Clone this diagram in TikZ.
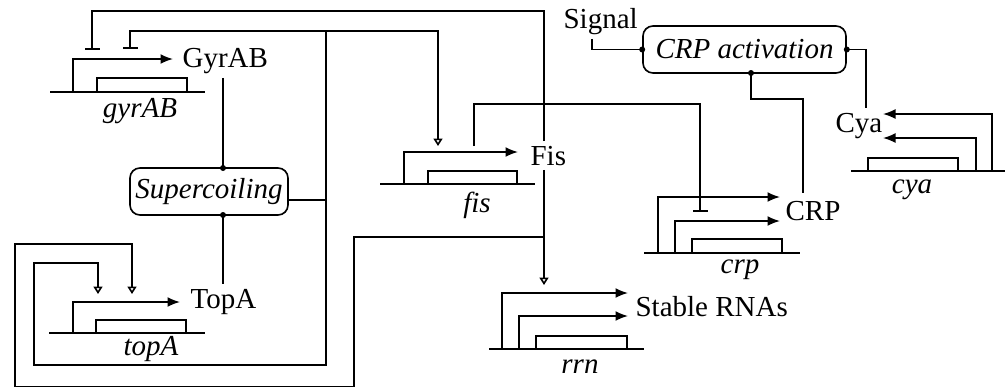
\documentclass[tikz,border=0pt]{standalone}
\usepackage{fontspec}
\setmainfont{Liberation Serif}
\usetikzlibrary{arrows.meta}

\tikzset{
  lbl/.style={inner sep=1.5pt, anchor=base west},
  gname/.style={inner sep=0pt, anchor=base, font=\fontsize{11.6}{14}\selectfont\itshape},
  procbox/.style={draw, rounded corners=4pt, font=\fontsize{11.6}{14}\selectfont\itshape, minimum height=18.8pt, inner sep=0pt},
  prom/.style={-{Latex[length=5pt,width=4pt]}},
  act/.style={-{Triangle[open,length=3pt,width=3.6pt]}},
  rep/.style={-{Bar[width=6pt]}},
}

\begin{document}
\begin{tikzpicture}[x=0.4pt, y=-0.4pt, line width=0.65pt, font=\fontsize{11.6}{14}\selectfont]
\useasboundingbox (0,0) rectangle (1008,388);

% Products and processes
\node[lbl] (GyrAB) at (178,67) {GyrAB};
\node[lbl] (TopA) at (186,308) {TopA};
\node[lbl] (Fis) at (526,165) {Fis};
\node[lbl] (RNAs) at (631,316) {Stable RNAs};
\node[lbl] (CRP) at (781,220) {CRP};
\node[lbl] (Cya) at (831,132) {Cya};
\node[lbl] (Signal) at (559,28) {Signal};
\node[procbox, minimum width=63.2pt] (Supercoiling) at (209,191.5) {Supercoiling};
\node[procbox, minimum width=81.2pt] (CRPact) at (744.5,49.5) {CRP activation};

% Gene names
\node[gname] (gyrAB) at (140,117) {gyrAB};
\node[gname] (topA) at (151,355) {topA};
\node[gname] (fis) at (477,212) {fis};
\node[gname] (rrn) at (580,373) {rrn};
\node[gname] (crp) at (740,273) {crp};
\node[gname] (cya) at (912,193) {cya};

% Genes and promoters
\draw (50,92) -- (205,92);
\draw (97,92) rectangle (187,78);
\draw[prom] (73,92) |- (173,59);

\draw (49,333) -- (205,333);
\draw (96,333) rectangle (186,320);
\draw[prom] (73,333) |- (180,302);

\draw (380,184) -- (535,184);
\draw (428,184) rectangle (517,171);
\draw[prom] (404,184) |- (518,152);

\draw (489,349) -- (644,349);
\draw (536,349) rectangle (627,336);
\draw[prom] (502,349) |- (628,293);
\draw[prom] (519,349) |- (628,316);

\draw (644,253) -- (800,253);
\draw (692,253) rectangle (782,239);
\draw[prom] (658,253) |- (780,197);
\draw[prom] (675,253) |- (780,221);

\draw (851,171) -- (1005,171);
\draw (868,171) rectangle (958,158);
\draw[prom] (992,171) |- (883,114);
\draw[prom] (976,171) |- (883,138);

% Ends of the regulation lines
\coordinate (gyr-rep1) at (92,50);
\coordinate (gyr-rep2) at (130,49);
\coordinate (top-act1) at (98,294);
\coordinate (top-act2) at (132,294);
\coordinate (fis-act) at (438,146);
\coordinate (fis-out) at (474,146);
\coordinate (rrn-act) at (544,285);
\coordinate (crp-rep) at (700,212);
\coordinate (crp-in) at (803,193);
\coordinate (cya-in) at (866,108);
\coordinate (sc-top) at (223,168);
\coordinate (sc-bot) at (223,215);
\coordinate (act-out) at (751,73);
\coordinate (hub) at (326,200);

% Supercoiling
\draw (sc-top |- GyrAB.south) -- (sc-top);
\draw (sc-bot) -- (sc-bot |- TopA.north);
\draw (Supercoiling.east |- hub) -- (hub);
\draw[rep] (hub) -- (hub |- 0,31) -| (gyr-rep2);
\draw[act] (hub |- 0,31) -| (fis-act);
\draw[act] (hub) |- (34,365) |- (top-act1 |- 0,263) -- (top-act1);

% Fis
\draw[rep] (Fis.north -| rrn-act) |- (gyr-rep1 |- 0,11) -- (gyr-rep1);
\draw[act] (Fis.south -| rrn-act) -- (rrn-act);
\draw[act] (rrn-act |- 0,237) -| (354,386.5) -| (15,244) -| (top-act2);
\draw[rep] (fis-out) |- (crp-rep |- 0,104) -- (crp-rep);

% CRP activation
\draw (Signal.south -| 592,0) |- (CRPact.west);
\draw (CRPact.east) -| (cya-in);
\draw (act-out) |- (crp-in |- 0,99) -- (crp-in);
\foreach \p in {sc-top, sc-bot, act-out, CRPact.west, CRPact.east}
  \fill (\p) circle (1.2pt);
\end{tikzpicture}
\end{document}
